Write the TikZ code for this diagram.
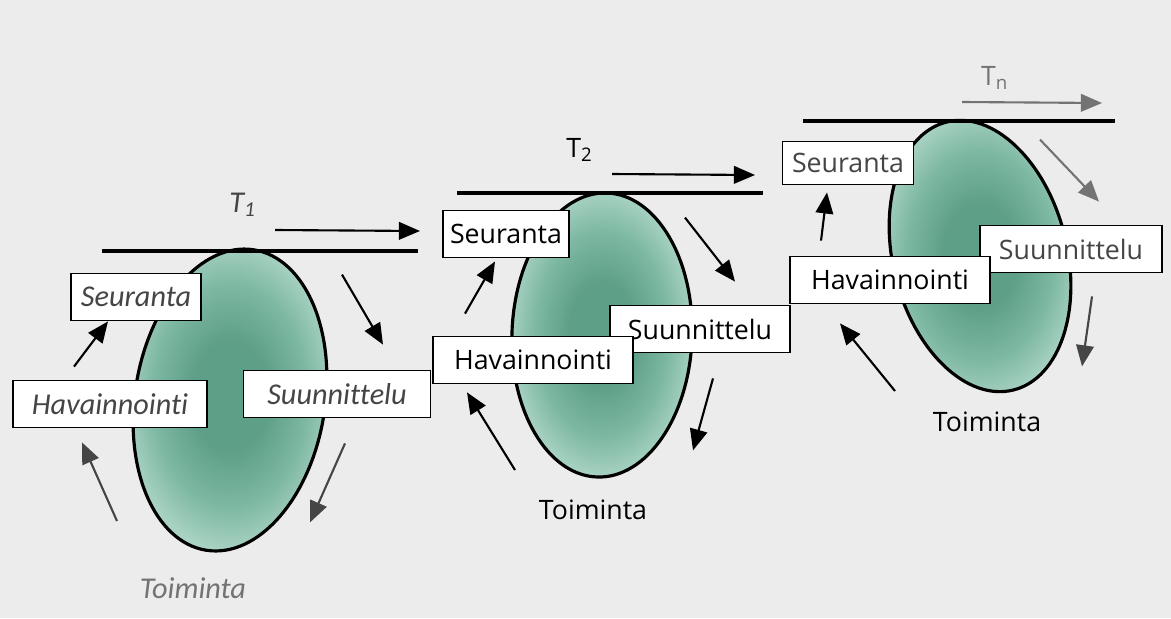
\documentclass[tikz,border=0pt]{standalone}
\usepackage{fontspec}
\setsansfont{Carlito}[Ligatures=NoCommon]
\newfontfamily\stagefont{Open Sans}[Ligatures=NoCommon]
\usetikzlibrary{positioning,calc,shapes.geometric,arrows.meta}

\definecolor{pagegray}{HTML}{EDECEC}
\definecolor{leafpale}{HTML}{A8D2C2}
\definecolor{leafmid}{HTML}{7DB8A2}
\definecolor{leafdark}{HTML}{5E9F88}
\definecolor{inkgray}{HTML}{454545}
\definecolor{fadegray}{HTML}{737373}

% soft glow inside each round
\pgfdeclareradialshading{leafglow}{\pgfpoint{0bp}{0bp}}{color(0bp)=(leafdark); color(9bp)=(leafdark); color(18bp)=(leafmid); color(25bp)=(leafpale); color(50bp)=(leafpale)}

\tikzset{cyclebody/.style={ellipse, draw, line width=0.9pt, inner sep=0pt, shading=leafglow}}
\tikzset{stagebox/.style={draw, fill=white, line width=0.5pt, minimum height=0.47cm, inner xsep=2pt}}
\tikzset{oldstyle/.style={font=\fontsize{8.6}{10}\sffamily\itshape, text=inkgray}}
\tikzset{newstyle/.style={font=\fontsize{7.6}{9}\stagefont}}
\tikzset{timeline/.style={draw, line width=0.9pt}}
\tikzset{arr/.style={draw, line width=0.6pt, -{Triangle[length=6pt,width=5pt]}}}

\begin{document}
\begin{tikzpicture}[x=0.01cm, y=-0.01cm]
	\useasboundingbox[fill=pagegray] (0,0) rectangle (1171,618);
%
	% first round, T1
	\node[cyclebody, rotate=-9, minimum width=1.9cm, minimum height=3.04cm] (kierros1) at (230,400) {};
	\coordinate (alku1) at (102,251);
	\coordinate (loppu1) at (418,251);
	\draw[timeline] (alku1) -- (loppu1);
	\node[oldstyle] (aika1) at (243,205) {T\textsubscript{1}};
	\coordinate (kulku1a) at (275,230);
	\coordinate (kulku1b) at (420,231);
	\draw[arr] (kulku1a) -- (kulku1b);
	\node[stagebox, oldstyle, minimum width=1.3cm] (seur1) at (136,297) {Seuranta};
	\node[stagebox, oldstyle, minimum width=1.94cm] (hav1) at (110,404) {Havainnointi};
	\node[stagebox, oldstyle, minimum width=1.87cm] (suun1) at (337,394) {Suunnittelu};
	\node[oldstyle, text=fadegray] (toim1) at (193,588) {Toiminta};
	\draw[arr] ($(hav1.north)+(-36,-13)$) -- ($(seur1.south)+(-28,0)$);
	\draw[arr, inkgray] ($(toim1)+(-76,-67)$) -- ($(hav1.south)+(-28,14)$);
	\draw[arr] ($(suun1.north)+(5,-95)$) -- ($(suun1.north)+(46,-25)$);
	\draw[arr, inkgray] ($(suun1.south)+(8,25)$) -- ($(suun1.south)+(-27,104)$);
%
	% second round, T2
	\node[cyclebody, rotate=-2, minimum width=1.8cm, minimum height=2.84cm] (kierros2) at (602,335) {};
	\coordinate (alku2) at (457,193);
	\coordinate (loppu2) at (763,193);
	\draw[timeline] (alku2) -- (loppu2);
	\node[newstyle] (aika2) at (580,150) {T\textsubscript{2}};
	\coordinate (kulku2a) at (612,174);
	\coordinate (kulku2b) at (755,175);
	\draw[arr] (kulku2a) -- (kulku2b);
	\node[stagebox, newstyle, minimum width=1.23cm] (seur2) at (506,234) {Seuranta};
	\node[stagebox, newstyle, minimum width=1.8cm] (suun2) at (700,329) {Suunnittelu};
	\node[stagebox, newstyle, minimum width=2cm] (hav2) at (533,360) {Havainnointi};
	\node[newstyle] (toim2) at (593,510) {Toiminta};
	\draw[arr] ($(hav2.north)+(-68,-22)$) -- ($(seur2.south)+(-11,3)$);
	\draw[arr] ($(toim2)+(-78,-40)$) -- ($(hav2.south)+(-66,8)$);
	\draw[arr] ($(suun2.north)+(-15,-87)$) -- ($(suun2.north)+(35,-23)$);
	\draw[arr] ($(suun2.south)+(13,25)$) -- ($(suun2.south)+(-7,97)$);
%
	% last round, Tn
	\node[cyclebody, rotate=14, minimum width=1.74cm, minimum height=2.76cm] (kierros3) at (980,256) {};
	\coordinate (alku3) at (803,121);
	\coordinate (loppu3) at (1115,121);
	\draw[timeline] (alku3) -- (loppu3);
	\node[newstyle, text=fadegray] (aika3) at (995,78) {T\textsubscript{n}};
	\coordinate (kulku3a) at (962,102);
	\coordinate (kulku3b) at (1102,103);
	\draw[arr, fadegray] (kulku3a) -- (kulku3b);
	\node[stagebox, newstyle, text=inkgray, minimum width=1.31cm, minimum height=0.4cm] (seur3) at (848,163) {Seuranta};
	\node[stagebox, newstyle, text=inkgray, minimum width=1.82cm] (suun3) at (1071,249) {Suunnittelu};
	\node[stagebox, newstyle, minimum width=2cm] (hav3) at (890,280) {Havainnointi};
	\node[newstyle] (toim3) at (987,422) {Toiminta};
	\draw[arr] ($(hav3.north)+(-69,-15)$) -- ($(seur3.south)+(-21,7)$);
	\draw[arr] ($(toim3)+(-92,-31)$) -- ($(hav3.south)+(-50,19)$);
	\draw[arr, fadegray] ($(suun3.north)+(-31,-85)$) -- ($(suun3.north)+(28,-23)$);
	\draw[arr, inkgray] ($(suun3.south)+(21,23)$) -- ($(suun3.south)+(11,93)$);
\end{tikzpicture}
\end{document}
